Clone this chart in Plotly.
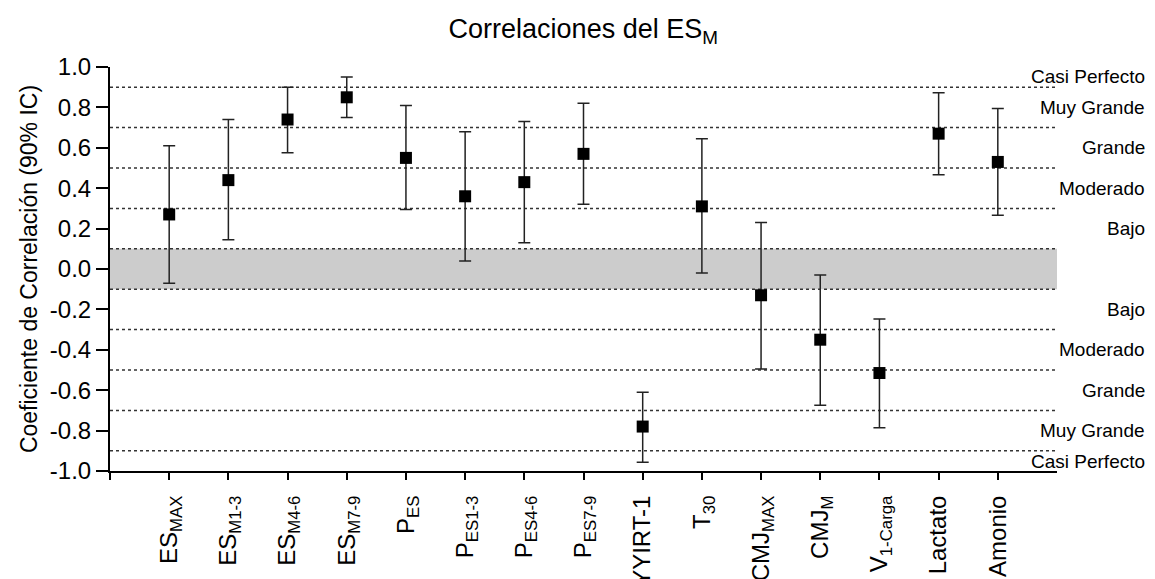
import plotly.graph_objects as go

categories = ["ES<sub>MAX</sub>", "ES<sub>M1-3</sub>", "ES<sub>M4-6</sub>", "ES<sub>M7-9</sub>",
              "P<sub>ES</sub>", "P<sub>ES1-3</sub>", "P<sub>ES4-6</sub>", "P<sub>ES7-9</sub>",
              "YYIRT-1", "T<sub>30</sub>", "CMJ<sub>MAX</sub>", "CMJ<sub>M</sub>",
              "V<sub>1-Carga</sub>", "Lactato", "Amonio"]
r_values = [0.27, 0.44, 0.74, 0.85, 0.55, 0.36, 0.43, 0.57, -0.78, 0.31, -0.13, -0.35, -0.515, 0.67, 0.53]
ci_upper = [0.61, 0.74, 0.90, 0.95, 0.81, 0.68, 0.73, 0.82, -0.61, 0.645, 0.23, -0.03, -0.248, 0.873, 0.795]
ci_lower = [-0.07, 0.145, 0.575, 0.75, 0.295, 0.04, 0.13, 0.32, -0.957, -0.02, -0.495, -0.675, -0.786, 0.467, 0.266]

threshold_lines = [0.1, 0.3, 0.5, 0.7, 0.9, -0.1, -0.3, -0.5, -0.7, -0.9]
zone_labels = ["Casi Perfecto", "Muy Grande", "Grande", "Moderado", "Bajo",
               "Bajo", "Moderado", "Grande", "Muy Grande", "Casi Perfecto"]
zone_label_y = [0.955, 0.8, 0.6, 0.4, 0.2, -0.2, -0.4, -0.6, -0.8, -0.955]
y_ticks = [-1.0, -0.8, -0.6, -0.4, -0.2, 0.0, 0.2, 0.4, 0.6, 0.8, 1.0]

FONT = "Arial, Liberation Sans, Helvetica, sans-serif"
xs = list(range(len(categories)))

fig = go.Figure()
fig.add_trace(go.Scatter(
    x=xs, y=r_values, mode="markers",
    marker=dict(symbol="square", size=12, color="black"),
    error_y=dict(type="data", symmetric=False,
                 array=[u - v for u, v in zip(ci_upper, r_values)],
                 arrayminus=[v - l for v, l in zip(r_values, ci_lower)],
                 color="#222222", thickness=1.5, width=6),
    showlegend=False,
))

shapes = [dict(type="rect", xref="x", yref="y", x0=-1, x1=15, y0=-0.1, y1=0.1,
               fillcolor="#cccccc", line=dict(width=0), layer="below")]
for t in threshold_lines:
    shapes.append(dict(type="line", xref="x", yref="y", x0=-1, x1=15, y0=t, y1=t,
                       line=dict(color="#333333", width=1.5, dash="dot"), layer="below"))

annotations = []
for lab, yy in zip(zone_labels, zone_label_y):
    annotations.append(dict(text=lab, xref="paper", yref="y", x=1.095, y=yy,
                            xanchor="right", yanchor="middle", showarrow=False,
                            font=dict(family=FONT, size=19, color="black")))

fig.update_layout(
    width=1155, height=579,
    margin=dict(l=110, r=98, t=67, b=108),
    paper_bgcolor="white", plot_bgcolor="white",
    font=dict(family=FONT, color="black"),
    title=dict(text="Correlaciones del ES<sub>M</sub>", x=0.505, xanchor="center",
               y=0.95, yanchor="middle", font=dict(family=FONT, size=27, color="black")),
    shapes=shapes, annotations=annotations,
    xaxis=dict(range=[-1, 15], tickmode="array", tickvals=[-1] + xs, ticktext=[""] + categories,
               tickangle=-90, showgrid=False, zeroline=False, showline=True,
               linecolor="black", linewidth=2, ticks="outside", ticklen=7, tickwidth=2,
               tickcolor="black", tickfont=dict(family=FONT, size=24, color="black"),
               ticklabelstandoff=6, automargin=False),
    yaxis=dict(range=[-1, 1], tickmode="array", tickvals=y_ticks,
               ticktext=[f"{v:.1f}" for v in y_ticks],
               showgrid=False, zeroline=False, showline=True,
               linecolor="black", linewidth=2, ticks="outside", ticklen=12, tickwidth=2,
               tickcolor="black", tickfont=dict(family=FONT, size=24, color="black"),
               title=dict(text="Coeficiente de Correlación (90% IC)",
                          font=dict(family=FONT, size=23, color="black"), standoff=6),
               automargin=False),
)

fig.write_html("out.html")
